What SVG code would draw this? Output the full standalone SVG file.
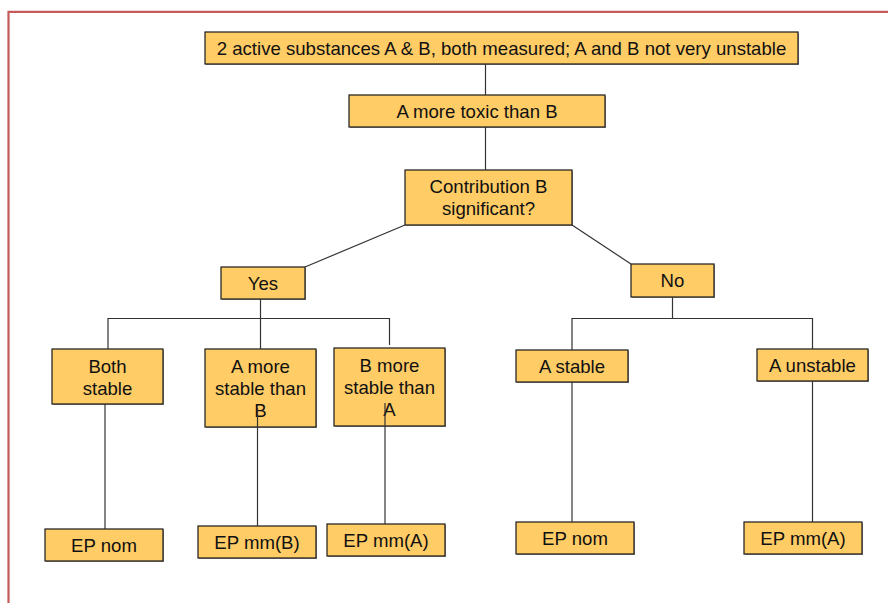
<svg xmlns="http://www.w3.org/2000/svg" width="888" height="603" viewBox="0 0 888 603">
<style>
.box{fill:#FFCC66;stroke:#1a1a1a;stroke-width:1.2}
.sh{fill:#9a9a9a}
text{font-family:"Liberation Sans",Arial,sans-serif;font-size:18.6px;fill:#111;text-anchor:middle}
.c line,.c polyline{stroke:#333;stroke-width:1.2;fill:none}
</style>
<rect x="0" y="0" width="888" height="603" fill="#fff"/>
<path d="M8.5 603 V11.8 H888" fill="none" stroke="#C55A5A" stroke-width="2.2"/>

<g id="n-top"><rect class="sh" x="206" y="33" width="593" height="32"/><rect class="box" x="205" y="32" width="593" height="32"/><text x="501.5" y="54.8">2 active substances A &amp; B, both measured; A and B not very unstable</text></g>
<g id="n-toxic"><rect class="sh" x="350" y="96" width="256" height="32"/><rect class="box" x="349" y="95" width="256" height="32"/><text x="477" y="117.7">A more toxic than B</text></g>
<g id="n-contrib"><rect class="sh" x="406" y="171" width="167" height="55"/><rect class="box" x="405" y="170" width="167" height="55"/><text x="488.5" y="192.9">Contribution B</text><text x="488.5" y="215.3">significant?</text></g>
<g id="n-yes"><rect class="sh" x="222" y="268" width="84" height="32"/><rect class="box" x="221" y="267" width="84" height="32"/><text x="263" y="289.5">Yes</text></g>
<g id="n-no"><rect class="sh" x="632" y="265" width="83" height="33"/><rect class="box" x="631" y="264" width="83" height="33"/><text x="672.5" y="287.2">No</text></g>
<g id="n-both"><rect class="sh" x="53" y="350" width="111" height="55"/><rect class="box" x="52" y="349" width="111" height="55"/><text x="107.5" y="372.5">Both</text><text x="107.5" y="394.5">stable</text></g>
<g id="n-amore"><rect class="sh" x="206" y="350" width="111" height="78"/><rect class="box" x="205" y="349" width="111" height="78"/><text x="260.5" y="372.5">A more</text><text x="260.5" y="394.5">stable than</text><text x="260.5" y="416.7">B</text></g>
<g id="n-bmore"><rect class="sh" x="335" y="349" width="111" height="78"/><rect class="box" x="334" y="348" width="111" height="78"/><text x="389.5" y="371.9">B more</text><text x="389.5" y="393.9">stable than</text><text x="389.5" y="416.2">A</text></g>
<g id="n-astable"><rect class="sh" x="517" y="351" width="112" height="32"/><rect class="box" x="516" y="350" width="112" height="32"/><text x="572" y="372.7">A stable</text></g>
<g id="n-aunstable"><rect class="sh" x="758" y="350" width="111" height="32"/><rect class="box" x="757" y="349" width="111" height="32"/><text x="812.5" y="371.7">A unstable</text></g>
<g id="n-epnom1"><rect class="sh" x="46" y="530" width="118" height="32"/><rect class="box" x="45" y="529" width="118" height="32"/><text x="104" y="552.2">EP nom</text></g>
<g id="n-epmmb"><rect class="sh" x="199" y="527" width="118" height="32"/><rect class="box" x="198" y="526" width="118" height="32"/><text x="257" y="548.7">EP mm(B)</text></g>
<g id="n-epmma1"><rect class="sh" x="328" y="525" width="118" height="32"/><rect class="box" x="327" y="524" width="118" height="32"/><text x="386" y="546.7">EP mm(A)</text></g>
<g id="n-epnom2"><rect class="sh" x="517" y="523" width="118" height="32"/><rect class="box" x="516" y="522" width="118" height="32"/><text x="575" y="544.7">EP nom</text></g>
<g id="n-epmma2"><rect class="sh" x="745" y="523" width="118" height="32"/><rect class="box" x="744" y="522" width="118" height="32"/><text x="803" y="544.7">EP mm(A)</text></g>

<g id="connectors" class="c">
<line x1="485.5" y1="64" x2="485.5" y2="95"/>
<line x1="485.5" y1="127" x2="485.5" y2="170"/>
<line x1="405" y1="225" x2="305" y2="267"/>
<line x1="572" y1="225" x2="631" y2="264"/>
<line x1="260.5" y1="299" x2="260.5" y2="349"/>
<polyline points="108,349 108,318.5 389.5,318.5 389.5,345"/>
<line x1="672.5" y1="297" x2="672.5" y2="318.5"/>
<polyline points="572,350 572,318.5 812.5,318.5 812.5,349"/>
<line x1="105" y1="404" x2="105" y2="529"/>
<line x1="257.5" y1="408" x2="257.5" y2="526"/>
<line x1="385" y1="403" x2="385" y2="524"/>
<line x1="572" y1="382" x2="572" y2="522"/>
<line x1="812.5" y1="381" x2="812.5" y2="522"/>
</g>
</svg>
